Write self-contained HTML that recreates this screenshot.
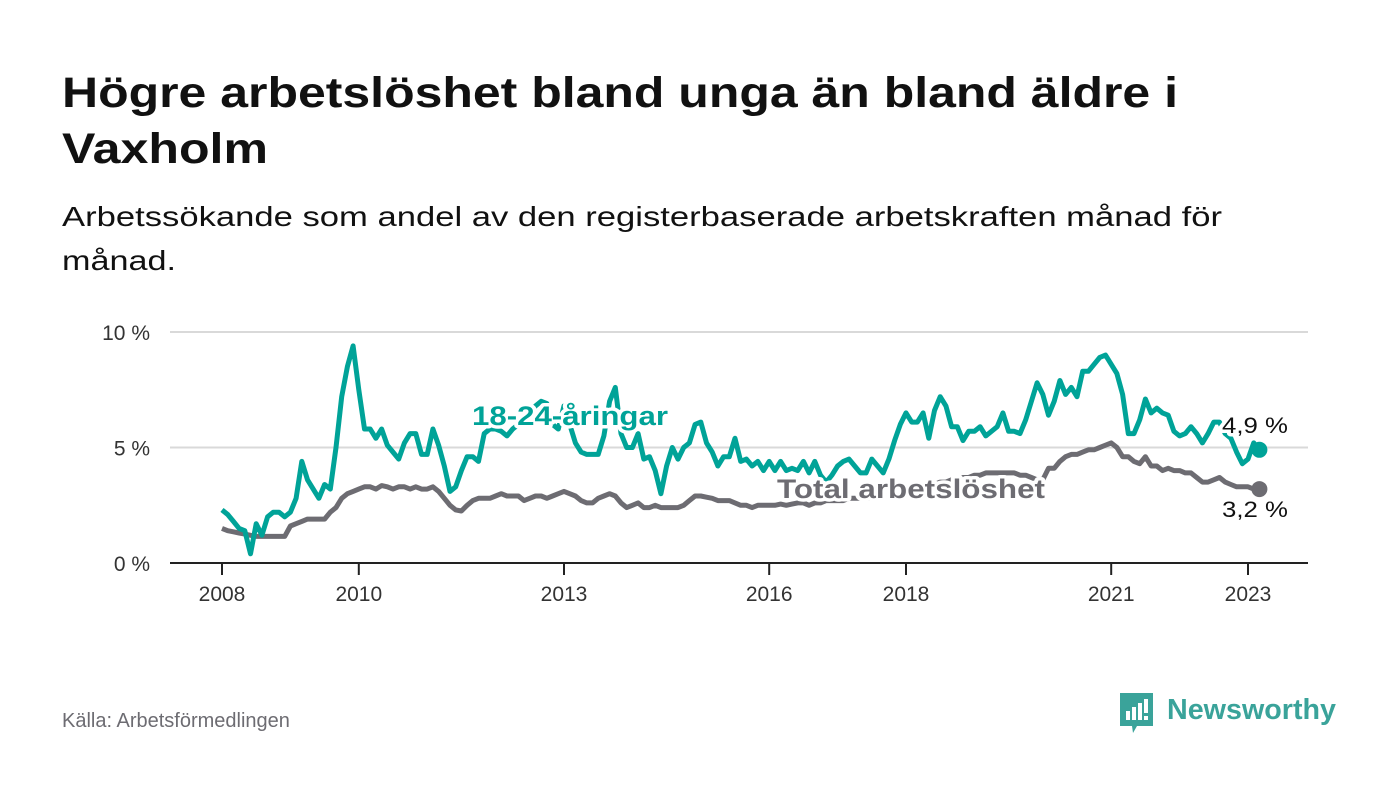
<!DOCTYPE html>
<html><head><meta charset="utf-8"><style>
html,body{margin:0;padding:0;background:#fff;}
svg{display:block;font-family:"Liberation Sans",sans-serif;}
</style></head><body>
<svg id="chart" width="1400" height="794" viewBox="0 0 1400 794">
<text x="62" y="107" font-size="43" font-weight="bold" fill="#111" textLength="1116" lengthAdjust="spacingAndGlyphs">Högre arbetslöshet bland unga än bland äldre i</text>
<text x="62" y="163" font-size="43" font-weight="bold" fill="#111" textLength="206" lengthAdjust="spacingAndGlyphs">Vaxholm</text>
<text x="62" y="226" font-size="28" fill="#111" textLength="1160" lengthAdjust="spacingAndGlyphs">Arbetssökande som andel av den registerbaserade arbetskraften månad för</text>
<text x="62" y="270" font-size="28" fill="#111" textLength="114" lengthAdjust="spacingAndGlyphs">månad.</text>
<g id="grid"></g>
<g id="xaxis"></g>
<g id="lines"></g>
<text x="62" y="727" font-size="20" fill="#6d6c72">Källa: Arbetsförmedlingen</text>
<g>
<path d="M1120 693 h33 v33 h-16 l-4 7 l-1 -7 h-12 z" fill="#3aa39a"/>
<rect x="1126" y="711" width="4" height="9" fill="#fff"/>
<rect x="1132" y="707" width="4" height="13" fill="#fff"/>
<rect x="1138" y="703" width="4" height="17" fill="#fff"/>
<rect x="1144" y="699" width="4" height="14" fill="#fff"/>
<rect x="1144" y="716" width="4" height="4" fill="#fff"/>
<text x="1167" y="719" font-size="29" font-weight="bold" fill="#3aa39a" textLength="169" lengthAdjust="spacingAndGlyphs">Newsworthy</text>
</g>
</svg>
<script>
const years = [2008,2010,2013,2016,2018,2021,2023];
const yTicks = [0,5,10];
const yTickLabels = ["0 %","5 %","10 %"];
const youth = [
2.3,2.1,1.8,1.5,1.4,0.4,1.7,1.2,2.0,2.2,2.2,2.0,
2.2,2.8,4.4,3.6,3.2,2.8,3.4,3.2,5.0,7.2,8.5,9.4,
7.5,5.8,5.8,5.4,5.8,5.1,4.8,4.5,5.2,5.6,5.6,4.7,
4.7,5.8,5.1,4.2,3.1,3.3,4.0,4.6,4.6,4.4,5.6,5.8,
5.8,5.7,5.5,5.8,6.0,6.2,6.5,6.8,7.0,6.9,6.0,5.8,
6.8,6.0,5.2,4.8,4.7,4.7,4.7,5.5,7.0,7.6,5.6,5.0,
5.0,5.6,4.5,4.6,4.0,3.0,4.2,5.0,4.5,5.0,5.2,6.0,
6.1,5.2,4.8,4.2,4.6,4.6,5.4,4.4,4.5,4.2,4.4,4.0,
4.4,4.0,4.4,4.0,4.1,4.0,4.4,3.9,4.4,3.8,3.5,3.8,
4.2,4.4,4.5,4.2,3.9,3.9,4.5,4.2,3.9,4.5,5.3,6.0,
6.5,6.1,6.1,6.5,5.4,6.6,7.2,6.8,5.9,5.9,
5.3,5.7,5.7,5.9,5.5,5.7,5.9,6.5,5.7,5.7,5.6,6.2,
7.0,7.8,7.3,6.4,7.0,7.9,7.3,7.6,7.2,8.3,8.3,8.6,
8.9,9.0,8.6,8.2,7.3,5.6,5.6,6.2,7.1,6.5,6.7,6.5,
6.4,5.7,5.5,5.6,5.9,5.6,5.2,5.6,6.1,6.1,5.6,5.4,
4.8,4.3,4.5,5.2,4.9];
const total = [
1.5,1.4,1.35,1.3,1.25,1.2,1.15,1.15,1.15,1.15,1.15,1.15,
1.6,1.7,1.8,1.9,1.9,1.9,1.9,2.2,2.4,2.8,3.0,3.1,
3.2,3.3,3.3,3.2,3.35,3.3,3.2,3.3,3.3,3.2,3.3,3.2,
3.2,3.3,3.1,2.8,2.5,2.3,2.25,2.5,2.7,2.8,2.8,2.8,
2.9,3.0,2.9,2.9,2.9,2.7,2.8,2.9,2.9,2.8,2.9,3.0,
3.1,3.0,2.9,2.7,2.6,2.6,2.8,2.9,3.0,2.9,2.6,2.4,
2.5,2.6,2.4,2.4,2.5,2.4,2.4,2.4,2.4,2.5,2.7,2.9,
2.9,2.85,2.8,2.7,2.7,2.7,2.6,2.5,2.5,2.4,2.5,2.5,
2.5,2.5,2.55,2.5,2.55,2.6,2.6,2.5,2.6,2.6,2.7,2.7,
2.7,2.7,2.8,2.8,2.8,2.8,2.8,2.8,2.9,2.9,2.9,3.0,
3.0,3.1,3.2,3.2,3.3,3.4,3.5,3.5,3.6,3.6,3.7,3.7,
3.8,3.8,3.9,3.9,3.9,3.9,3.9,3.9,3.8,3.8,3.7,3.6,
3.6,4.1,4.1,4.4,4.6,4.7,4.7,4.8,4.9,4.9,5.0,5.1,
5.2,5.0,4.6,4.6,4.4,4.3,4.6,4.2,4.2,4.0,4.1,4.0,
4.0,3.9,3.9,3.7,3.5,3.5,3.6,3.7,3.5,3.4,3.3,3.3,
3.3,3.2,3.2];
const NS="http://www.w3.org/2000/svg";
const x0=222, pxYear=68.4, y0=563, pxPct=23.1;
function xScale(i){return x0+i*pxYear/12;}
function xYear(y){return x0+(y-2008)*pxYear;}
function yScale(v){return y0-v*pxPct;}
function mk(tag,attrs,parent){const e=document.createElementNS(NS,tag);for(const k in attrs)e.setAttribute(k,attrs[k]);parent.appendChild(e);return e;}
const grid=document.getElementById('grid'), xa=document.getElementById('xaxis'), lines=document.getElementById('lines');
yTicks.forEach((t,i)=>{
  if(t>0){const l=mk('line',{x1:170,x2:1308,y1:yScale(t),y2:yScale(t),stroke:'#d9d9d9','stroke-width':2},grid);
  
  }
  const tx=mk('text',{x:150,y:yScale(t)+8,'font-size':21,fill:'#333','text-anchor':'end'},grid);
  tx.textContent=yTickLabels[i];
  
  
});
const ax=mk('line',{x1:170,x2:1308,y1:y0,y2:y0,stroke:'#222','stroke-width':2},xa);


years.forEach(y=>{
  const x=xYear(y);
  const tk=mk('line',{x1:x,x2:x,y1:y0,y2:y0+12,stroke:'#222','stroke-width':2},xa);
  
  
  const tx=mk('text',{x:x,y:601,'font-size':21,fill:'#333','text-anchor':'middle'},xa);
  tx.textContent=y;
  
  
});
function path(arr){return arr.map((v,i)=>(i?'L':'M')+xScale(i).toFixed(1)+' '+yScale(v).toFixed(1)).join(' ');}
const pt=mk('path',{d:path(total),fill:'none',stroke:'#6d6c72','stroke-width':5,'stroke-linejoin':'round'},lines);


const py=mk('path',{d:path(youth),fill:'none',stroke:'#00a398','stroke-width':5,'stroke-linejoin':'round'},lines);


const lt=total.length-1, ly=youth.length-1;
const dt=mk('circle',{cx:xScale(lt),cy:yScale(total[lt]),r:8,fill:'#6d6c72'},lines);


const dy=mk('circle',{cx:xScale(ly),cy:yScale(youth[ly]),r:8,fill:'#00a398'},lines);


function label(txt,x,y,size,color,bold,name,len){
  const a={x:x,y:y,'font-size':size,fill:color,stroke:'#fff','stroke-width':7,'paint-order':'stroke','stroke-linejoin':'round'};
  if(bold)a['font-weight']='bold';
  if(len){a.textLength=len;a.lengthAdjust='spacingAndGlyphs';}
  const t=mk('text',a,lines);t.textContent=txt;
  
  
}
label('18-24-åringar',472,425,27,'#00a398',true,'youth-series-label',196);
label('Total arbetslöshet',777,498,27,'#6d6c72',true,'total-series-label',268);
label(String(youth[ly]).replace('.',',')+' %',1222,433,22,'#111',false,'youth-end-value',66);
label(String(total[lt]).replace('.',',')+' %',1222,517,22,'#111',false,'total-end-value',66);
</script>
</body></html>
